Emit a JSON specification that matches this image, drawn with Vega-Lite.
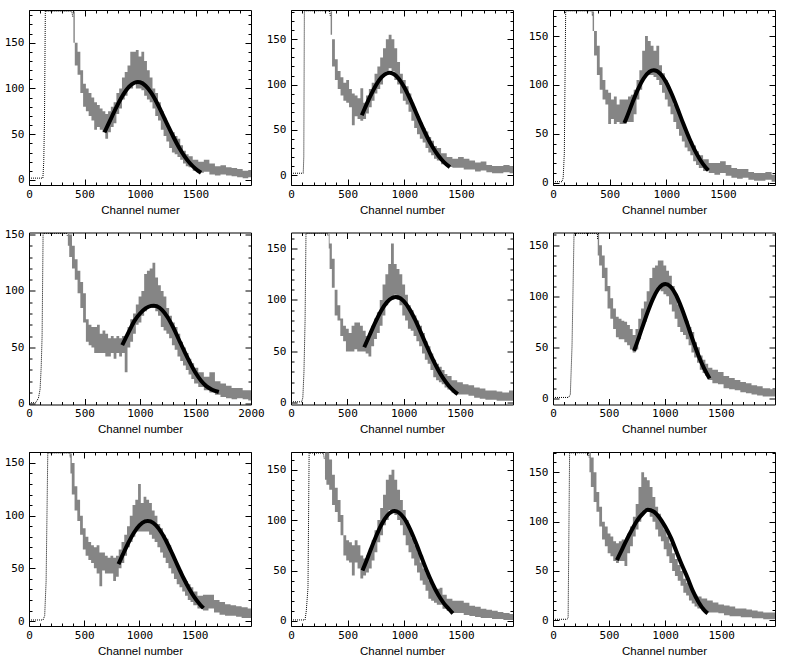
{
"$schema":"https://vega.github.io/schema/vega-lite/v6.json",
"padding":{"left":3,"top":5,"right":0,"bottom":0},
"background":"white",
"bounds":"flush",
"config":{"view":{"stroke":"black","strokeWidth":1},
"axis":{"domain":false,"grid":false,"tickColor":"black","labelColor":"black","labelFont":"DejaVu Sans Mono","labelFontSize":11,"titleFont":"Liberation Sans","titleFontSize":11.5,"titleFontWeight":"normal","titleColor":"black","labelFlush":false,"labelOverlap":false,"titlePadding":2}},
"columns":3,
"spacing":{"column":40,"row":47.5},
"datasets":{
"hist":[
{"p":1,"x":0,"y":2},{"p":1,"x":125,"y":2},{"p":1,"x":133,"y":20},{"p":1,"x":140,"y":70},{"p":1,"x":147,"y":184.5},{"p":1,"x":385,"y":184.5},{"p":1,"x":395,"y":178},
{"p":1,"x":400,"y":170,"lo":150,"hi":184},{"p":1,"x":425,"y":140,"lo":125,"hi":150},{"p":1,"x":450,"y":125,"lo":115,"hi":140},{"p":1,"x":475,"y":110,"lo":95,"hi":120},{"p":1,"x":500,"y":95,"lo":80,"hi":105},{"p":1,"x":525,"y":85,"lo":75,"hi":100},{"p":1,"x":550,"y":80,"lo":70,"hi":95},{"p":1,"x":575,"y":75,"lo":65,"hi":90},{"p":1,"x":600,"y":70,"lo":55,"hi":85},{"p":1,"x":625,"y":68,"lo":58,"hi":82},{"p":1,"x":650,"y":65,"lo":55,"hi":78},{"p":1,"x":675,"y":62,"lo":52,"hi":75},{"p":1,"x":700,"y":60,"lo":45,"hi":72},{"p":1,"x":725,"y":62,"lo":52,"hi":75},{"p":1,"x":750,"y":68,"lo":58,"hi":80},{"p":1,"x":775,"y":75,"lo":62,"hi":85},{"p":1,"x":800,"y":85,"lo":72,"hi":95},{"p":1,"x":825,"y":90,"lo":78,"hi":100},{"p":1,"x":850,"y":100,"lo":88,"hi":112},{"p":1,"x":875,"y":105,"lo":92,"hi":118},{"p":1,"x":900,"y":112,"lo":100,"hi":125},{"p":1,"x":925,"y":118,"lo":100,"hi":140},{"p":1,"x":950,"y":122,"lo":105,"hi":140},{"p":1,"x":975,"y":120,"lo":100,"hi":142},{"p":1,"x":1000,"y":118,"lo":100,"hi":135},{"p":1,"x":1025,"y":115,"lo":98,"hi":140},{"p":1,"x":1050,"y":112,"lo":92,"hi":130},{"p":1,"x":1075,"y":105,"lo":88,"hi":120},{"p":1,"x":1100,"y":98,"lo":85,"hi":112},{"p":1,"x":1125,"y":90,"lo":78,"hi":100},{"p":1,"x":1150,"y":82,"lo":70,"hi":95},{"p":1,"x":1175,"y":75,"lo":65,"hi":85},{"p":1,"x":1200,"y":65,"lo":55,"hi":75},{"p":1,"x":1225,"y":58,"lo":48,"hi":68},{"p":1,"x":1250,"y":52,"lo":42,"hi":62},{"p":1,"x":1275,"y":48,"lo":35,"hi":55},{"p":1,"x":1300,"y":42,"lo":30,"hi":52},{"p":1,"x":1325,"y":38,"lo":28,"hi":48},{"p":1,"x":1350,"y":35,"lo":25,"hi":45},{"p":1,"x":1375,"y":30,"lo":22,"hi":38},{"p":1,"x":1400,"y":26,"lo":18,"hi":32},{"p":1,"x":1425,"y":22,"lo":15,"hi":28},{"p":1,"x":1450,"y":20,"lo":14,"hi":26},{"p":1,"x":1500,"y":16,"lo":10,"hi":22},{"p":1,"x":1550,"y":14,"lo":8,"hi":20},{"p":1,"x":1600,"y":15,"lo":9,"hi":22},{"p":1,"x":1650,"y":12,"lo":6,"hi":18},{"p":1,"x":1700,"y":10,"lo":5,"hi":15},{"p":1,"x":1750,"y":12,"lo":6,"hi":16},{"p":1,"x":1800,"y":10,"lo":5,"hi":14},{"p":1,"x":1850,"y":9,"lo":4,"hi":13},{"p":1,"x":1900,"y":8,"lo":3,"hi":12},{"p":1,"x":1950,"y":6,"lo":2,"hi":10},{"p":1,"x":2000,"y":7,"lo":3,"hi":11},
{"p":2,"x":0,"y":2},{"p":2,"x":108,"y":2},{"p":2,"x":113,"y":20},{"p":2,"x":118,"y":181.5},{"p":2,"x":340,"y":181.5},{"p":2,"x":347,"y":176},
{"p":2,"x":350,"y":170,"lo":155,"hi":181},{"p":2,"x":375,"y":135,"lo":120,"hi":150},{"p":2,"x":400,"y":115,"lo":105,"hi":128},{"p":2,"x":425,"y":105,"lo":95,"hi":115},{"p":2,"x":450,"y":98,"lo":88,"hi":108},{"p":2,"x":475,"y":92,"lo":82,"hi":102},{"p":2,"x":500,"y":90,"lo":80,"hi":105},{"p":2,"x":525,"y":85,"lo":75,"hi":95},{"p":2,"x":550,"y":78,"lo":55,"hi":90},{"p":2,"x":575,"y":75,"lo":65,"hi":88},{"p":2,"x":600,"y":72,"lo":62,"hi":85},{"p":2,"x":625,"y":70,"lo":60,"hi":96},{"p":2,"x":650,"y":72,"lo":62,"hi":80},{"p":2,"x":675,"y":78,"lo":68,"hi":88},{"p":2,"x":700,"y":85,"lo":75,"hi":95},{"p":2,"x":725,"y":92,"lo":82,"hi":102},{"p":2,"x":750,"y":100,"lo":90,"hi":112},{"p":2,"x":775,"y":108,"lo":95,"hi":120},{"p":2,"x":800,"y":115,"lo":100,"hi":130},{"p":2,"x":825,"y":125,"lo":110,"hi":140},{"p":2,"x":850,"y":132,"lo":115,"hi":150},{"p":2,"x":875,"y":135,"lo":118,"hi":155},{"p":2,"x":900,"y":130,"lo":115,"hi":150},{"p":2,"x":925,"y":122,"lo":105,"hi":140},{"p":2,"x":950,"y":112,"lo":100,"hi":125},{"p":2,"x":975,"y":102,"lo":90,"hi":112},{"p":2,"x":1000,"y":95,"lo":82,"hi":105},{"p":2,"x":1025,"y":88,"lo":78,"hi":98},{"p":2,"x":1050,"y":80,"lo":70,"hi":90},{"p":2,"x":1075,"y":70,"lo":60,"hi":80},{"p":2,"x":1100,"y":62,"lo":52,"hi":72},{"p":2,"x":1125,"y":55,"lo":45,"hi":65},{"p":2,"x":1150,"y":50,"lo":40,"hi":58},{"p":2,"x":1175,"y":45,"lo":36,"hi":52},{"p":2,"x":1200,"y":40,"lo":30,"hi":48},{"p":2,"x":1225,"y":35,"lo":25,"hi":42},{"p":2,"x":1250,"y":30,"lo":22,"hi":38},{"p":2,"x":1275,"y":26,"lo":18,"hi":32},{"p":2,"x":1300,"y":24,"lo":16,"hi":30},{"p":2,"x":1350,"y":18,"lo":12,"hi":24},{"p":2,"x":1400,"y":15,"lo":9,"hi":20},{"p":2,"x":1450,"y":13,"lo":8,"hi":18},{"p":2,"x":1500,"y":14,"lo":8,"hi":20},{"p":2,"x":1550,"y":12,"lo":6,"hi":18},{"p":2,"x":1600,"y":11,"lo":6,"hi":16},{"p":2,"x":1650,"y":9,"lo":4,"hi":14},{"p":2,"x":1700,"y":10,"lo":5,"hi":15},{"p":2,"x":1750,"y":7,"lo":3,"hi":11},{"p":2,"x":1800,"y":6,"lo":2,"hi":10},{"p":2,"x":1850,"y":6,"lo":2,"hi":10},{"p":2,"x":1900,"y":7,"lo":3,"hi":11},{"p":2,"x":1960,"y":6,"lo":2,"hi":10},
{"p":3,"x":0,"y":1},{"p":3,"x":80,"y":1},{"p":3,"x":90,"y":5},{"p":3,"x":100,"y":30},{"p":3,"x":112,"y":175.7},{"p":3,"x":345,"y":175.7},{"p":3,"x":348,"y":170},
{"p":3,"x":350,"y":168,"lo":155,"hi":175},{"p":3,"x":375,"y":145,"lo":130,"hi":155},{"p":3,"x":400,"y":125,"lo":110,"hi":140},{"p":3,"x":425,"y":105,"lo":95,"hi":118},{"p":3,"x":450,"y":95,"lo":85,"hi":105},{"p":3,"x":475,"y":88,"lo":80,"hi":95},{"p":3,"x":500,"y":78,"lo":60,"hi":92},{"p":3,"x":525,"y":75,"lo":65,"hi":85},{"p":3,"x":550,"y":72,"lo":60,"hi":88},{"p":3,"x":575,"y":70,"lo":62,"hi":80},{"p":3,"x":600,"y":68,"lo":60,"hi":85},{"p":3,"x":625,"y":70,"lo":60,"hi":85},{"p":3,"x":650,"y":72,"lo":62,"hi":85},{"p":3,"x":675,"y":75,"lo":62,"hi":88},{"p":3,"x":700,"y":78,"lo":62,"hi":90},{"p":3,"x":725,"y":85,"lo":70,"hi":95},{"p":3,"x":750,"y":95,"lo":85,"hi":105},{"p":3,"x":775,"y":105,"lo":95,"hi":115},{"p":3,"x":800,"y":120,"lo":105,"hi":135},{"p":3,"x":825,"y":130,"lo":110,"hi":150},{"p":3,"x":850,"y":128,"lo":110,"hi":145},{"p":3,"x":875,"y":125,"lo":110,"hi":140},{"p":3,"x":900,"y":122,"lo":108,"hi":135},{"p":3,"x":925,"y":118,"lo":105,"hi":140},{"p":3,"x":950,"y":110,"lo":100,"hi":120},{"p":3,"x":975,"y":102,"lo":92,"hi":112},{"p":3,"x":1000,"y":95,"lo":85,"hi":105},{"p":3,"x":1025,"y":88,"lo":78,"hi":98},{"p":3,"x":1050,"y":80,"lo":70,"hi":90},{"p":3,"x":1075,"y":72,"lo":62,"hi":80},{"p":3,"x":1100,"y":65,"lo":55,"hi":75},{"p":3,"x":1125,"y":58,"lo":48,"hi":66},{"p":3,"x":1150,"y":52,"lo":42,"hi":60},{"p":3,"x":1175,"y":45,"lo":36,"hi":52},{"p":3,"x":1200,"y":40,"lo":32,"hi":48},{"p":3,"x":1225,"y":35,"lo":28,"hi":42},{"p":3,"x":1250,"y":30,"lo":22,"hi":38},{"p":3,"x":1275,"y":26,"lo":18,"hi":32},{"p":3,"x":1300,"y":22,"lo":15,"hi":28},{"p":3,"x":1350,"y":18,"lo":12,"hi":24},{"p":3,"x":1400,"y":15,"lo":10,"hi":20},{"p":3,"x":1450,"y":14,"lo":8,"hi":20},{"p":3,"x":1500,"y":16,"lo":10,"hi":22},{"p":3,"x":1550,"y":12,"lo":7,"hi":18},{"p":3,"x":1600,"y":10,"lo":5,"hi":15},{"p":3,"x":1650,"y":9,"lo":4,"hi":14},{"p":3,"x":1700,"y":10,"lo":5,"hi":14},{"p":3,"x":1750,"y":7,"lo":3,"hi":11},{"p":3,"x":1800,"y":6,"lo":2,"hi":10},{"p":3,"x":1850,"y":6,"lo":2,"hi":10},{"p":3,"x":1900,"y":7,"lo":3,"hi":11},{"p":3,"x":1960,"y":4,"lo":1,"hi":8},
{"p":4,"x":0,"y":1},{"p":4,"x":60,"y":1},{"p":4,"x":85,"y":5},{"p":4,"x":100,"y":13},{"p":4,"x":110,"y":33},{"p":4,"x":118,"y":60},{"p":4,"x":127,"y":151},{"p":4,"x":338,"y":151},{"p":4,"x":345,"y":149},
{"p":4,"x":350,"y":148,"lo":140,"hi":151},{"p":4,"x":375,"y":140,"lo":130,"hi":150},{"p":4,"x":400,"y":130,"lo":120,"hi":140},{"p":4,"x":425,"y":120,"lo":110,"hi":128},{"p":4,"x":450,"y":108,"lo":98,"hi":118},{"p":4,"x":475,"y":98,"lo":85,"hi":108},{"p":4,"x":500,"y":85,"lo":72,"hi":98},{"p":4,"x":525,"y":65,"lo":55,"hi":75},{"p":4,"x":550,"y":60,"lo":52,"hi":70},{"p":4,"x":575,"y":58,"lo":50,"hi":68},{"p":4,"x":600,"y":56,"lo":45,"hi":68},{"p":4,"x":625,"y":55,"lo":45,"hi":70},{"p":4,"x":650,"y":54,"lo":45,"hi":62},{"p":4,"x":675,"y":55,"lo":45,"hi":65},{"p":4,"x":700,"y":52,"lo":42,"hi":62},{"p":4,"x":725,"y":50,"lo":42,"hi":58},{"p":4,"x":750,"y":52,"lo":45,"hi":60},{"p":4,"x":775,"y":50,"lo":40,"hi":58},{"p":4,"x":800,"y":52,"lo":45,"hi":60},{"p":4,"x":825,"y":50,"lo":42,"hi":58},{"p":4,"x":850,"y":52,"lo":45,"hi":60},{"p":4,"x":875,"y":48,"lo":28,"hi":58},{"p":4,"x":900,"y":58,"lo":50,"hi":68},{"p":4,"x":925,"y":65,"lo":55,"hi":75},{"p":4,"x":950,"y":72,"lo":62,"hi":80},{"p":4,"x":975,"y":78,"lo":70,"hi":88},{"p":4,"x":1000,"y":82,"lo":72,"hi":95},{"p":4,"x":1025,"y":88,"lo":78,"hi":100},{"p":4,"x":1050,"y":95,"lo":82,"hi":115},{"p":4,"x":1075,"y":100,"lo":85,"hi":118},{"p":4,"x":1100,"y":102,"lo":85,"hi":120},{"p":4,"x":1125,"y":100,"lo":85,"hi":125},{"p":4,"x":1150,"y":98,"lo":82,"hi":112},{"p":4,"x":1175,"y":90,"lo":78,"hi":105},{"p":4,"x":1200,"y":85,"lo":68,"hi":100},{"p":4,"x":1225,"y":80,"lo":65,"hi":95},{"p":4,"x":1250,"y":75,"lo":62,"hi":85},{"p":4,"x":1275,"y":68,"lo":58,"hi":78},{"p":4,"x":1300,"y":62,"lo":52,"hi":72},{"p":4,"x":1325,"y":58,"lo":48,"hi":68},{"p":4,"x":1350,"y":52,"lo":42,"hi":62},{"p":4,"x":1375,"y":47,"lo":38,"hi":55},{"p":4,"x":1400,"y":42,"lo":34,"hi":50},{"p":4,"x":1425,"y":38,"lo":30,"hi":45},{"p":4,"x":1450,"y":34,"lo":26,"hi":40},{"p":4,"x":1475,"y":30,"lo":22,"hi":36},{"p":4,"x":1500,"y":26,"lo":18,"hi":32},{"p":4,"x":1550,"y":22,"lo":15,"hi":28},{"p":4,"x":1600,"y":18,"lo":12,"hi":24},{"p":4,"x":1650,"y":17,"lo":10,"hi":28},{"p":4,"x":1700,"y":14,"lo":8,"hi":20},{"p":4,"x":1750,"y":12,"lo":6,"hi":18},{"p":4,"x":1800,"y":10,"lo":5,"hi":16},{"p":4,"x":1850,"y":9,"lo":4,"hi":14},{"p":4,"x":1900,"y":10,"lo":5,"hi":14},{"p":4,"x":1950,"y":8,"lo":4,"hi":12},{"p":4,"x":2000,"y":8,"lo":3,"hi":12},
{"p":5,"x":0,"y":1},{"p":5,"x":95,"y":1},{"p":5,"x":105,"y":5},{"p":5,"x":115,"y":30},{"p":5,"x":125,"y":80},{"p":5,"x":133,"y":164.8},{"p":5,"x":323,"y":164.8},{"p":5,"x":330,"y":162},
{"p":5,"x":335,"y":160,"lo":150,"hi":165},{"p":5,"x":350,"y":145,"lo":130,"hi":155},{"p":5,"x":375,"y":128,"lo":112,"hi":140},{"p":5,"x":400,"y":95,"lo":85,"hi":110},{"p":5,"x":425,"y":88,"lo":80,"hi":95},{"p":5,"x":450,"y":75,"lo":65,"hi":82},{"p":5,"x":475,"y":68,"lo":60,"hi":75},{"p":5,"x":500,"y":62,"lo":50,"hi":72},{"p":5,"x":525,"y":60,"lo":50,"hi":68},{"p":5,"x":550,"y":62,"lo":50,"hi":75},{"p":5,"x":575,"y":65,"lo":52,"hi":78},{"p":5,"x":600,"y":62,"lo":50,"hi":78},{"p":5,"x":625,"y":60,"lo":50,"hi":75},{"p":5,"x":650,"y":58,"lo":50,"hi":70},{"p":5,"x":675,"y":55,"lo":48,"hi":65},{"p":5,"x":700,"y":60,"lo":45,"hi":68},{"p":5,"x":725,"y":65,"lo":55,"hi":75},{"p":5,"x":750,"y":72,"lo":62,"hi":82},{"p":5,"x":775,"y":78,"lo":68,"hi":88},{"p":5,"x":800,"y":88,"lo":75,"hi":100},{"p":5,"x":825,"y":100,"lo":85,"hi":115},{"p":5,"x":850,"y":110,"lo":95,"hi":125},{"p":5,"x":875,"y":118,"lo":100,"hi":135},{"p":5,"x":900,"y":120,"lo":100,"hi":155},{"p":5,"x":925,"y":118,"lo":105,"hi":135},{"p":5,"x":950,"y":115,"lo":100,"hi":130},{"p":5,"x":975,"y":110,"lo":95,"hi":125},{"p":5,"x":1000,"y":100,"lo":85,"hi":115},{"p":5,"x":1025,"y":92,"lo":80,"hi":105},{"p":5,"x":1050,"y":85,"lo":72,"hi":95},{"p":5,"x":1075,"y":80,"lo":70,"hi":90},{"p":5,"x":1100,"y":75,"lo":65,"hi":85},{"p":5,"x":1125,"y":70,"lo":60,"hi":80},{"p":5,"x":1150,"y":65,"lo":55,"hi":75},{"p":5,"x":1175,"y":58,"lo":48,"hi":68},{"p":5,"x":1200,"y":52,"lo":42,"hi":60},{"p":5,"x":1225,"y":46,"lo":38,"hi":55},{"p":5,"x":1250,"y":40,"lo":32,"hi":48},{"p":5,"x":1275,"y":35,"lo":25,"hi":42},{"p":5,"x":1300,"y":30,"lo":22,"hi":38},{"p":5,"x":1325,"y":28,"lo":20,"hi":35},{"p":5,"x":1350,"y":25,"lo":18,"hi":32},{"p":5,"x":1375,"y":22,"lo":15,"hi":28},{"p":5,"x":1400,"y":20,"lo":13,"hi":26},{"p":5,"x":1450,"y":17,"lo":10,"hi":22},{"p":5,"x":1500,"y":15,"lo":8,"hi":20},{"p":5,"x":1550,"y":13,"lo":8,"hi":18},{"p":5,"x":1600,"y":12,"lo":7,"hi":17},{"p":5,"x":1650,"y":10,"lo":5,"hi":15},{"p":5,"x":1700,"y":9,"lo":4,"hi":14},{"p":5,"x":1750,"y":8,"lo":3,"hi":12},{"p":5,"x":1800,"y":8,"lo":3,"hi":12},{"p":5,"x":1850,"y":7,"lo":2,"hi":11},{"p":5,"x":1900,"y":6,"lo":2,"hi":10},{"p":5,"x":1970,"y":7,"lo":2,"hi":12},
{"p":6,"x":0,"y":1},{"p":6,"x":140,"y":1},{"p":6,"x":155,"y":4},{"p":6,"x":170,"y":51},{"p":6,"x":188,"y":161.5},{"p":6,"x":396,"y":161.5},{"p":6,"x":399,"y":156},
{"p":6,"x":400,"y":150,"lo":140,"hi":161},{"p":6,"x":425,"y":140,"lo":130,"hi":150},{"p":6,"x":450,"y":130,"lo":118,"hi":140},{"p":6,"x":475,"y":118,"lo":105,"hi":128},{"p":6,"x":500,"y":100,"lo":88,"hi":110},{"p":6,"x":525,"y":88,"lo":78,"hi":98},{"p":6,"x":550,"y":78,"lo":68,"hi":88},{"p":6,"x":575,"y":70,"lo":60,"hi":80},{"p":6,"x":600,"y":68,"lo":58,"hi":78},{"p":6,"x":625,"y":66,"lo":58,"hi":76},{"p":6,"x":650,"y":65,"lo":55,"hi":75},{"p":6,"x":675,"y":62,"lo":52,"hi":72},{"p":6,"x":700,"y":58,"lo":48,"hi":68},{"p":6,"x":725,"y":55,"lo":45,"hi":62},{"p":6,"x":750,"y":58,"lo":48,"hi":68},{"p":6,"x":775,"y":68,"lo":58,"hi":78},{"p":6,"x":800,"y":78,"lo":68,"hi":88},{"p":6,"x":825,"y":85,"lo":75,"hi":95},{"p":6,"x":850,"y":95,"lo":85,"hi":105},{"p":6,"x":875,"y":105,"lo":92,"hi":118},{"p":6,"x":900,"y":115,"lo":100,"hi":128},{"p":6,"x":925,"y":118,"lo":105,"hi":130},{"p":6,"x":950,"y":122,"lo":110,"hi":135},{"p":6,"x":975,"y":120,"lo":105,"hi":135},{"p":6,"x":1000,"y":118,"lo":102,"hi":130},{"p":6,"x":1025,"y":112,"lo":100,"hi":125},{"p":6,"x":1050,"y":105,"lo":92,"hi":120},{"p":6,"x":1075,"y":98,"lo":85,"hi":110},{"p":6,"x":1100,"y":90,"lo":78,"hi":100},{"p":6,"x":1125,"y":82,"lo":70,"hi":92},{"p":6,"x":1150,"y":78,"lo":65,"hi":88},{"p":6,"x":1175,"y":72,"lo":62,"hi":80},{"p":6,"x":1200,"y":68,"lo":58,"hi":76},{"p":6,"x":1225,"y":62,"lo":52,"hi":70},{"p":6,"x":1250,"y":55,"lo":45,"hi":65},{"p":6,"x":1275,"y":48,"lo":40,"hi":55},{"p":6,"x":1300,"y":42,"lo":35,"hi":50},{"p":6,"x":1325,"y":36,"lo":28,"hi":42},{"p":6,"x":1350,"y":32,"lo":25,"hi":38},{"p":6,"x":1375,"y":28,"lo":22,"hi":34},{"p":6,"x":1400,"y":25,"lo":18,"hi":30},{"p":6,"x":1450,"y":22,"lo":15,"hi":28},{"p":6,"x":1500,"y":20,"lo":14,"hi":26},{"p":6,"x":1550,"y":16,"lo":10,"hi":22},{"p":6,"x":1600,"y":15,"lo":9,"hi":20},{"p":6,"x":1650,"y":13,"lo":8,"hi":18},{"p":6,"x":1700,"y":11,"lo":6,"hi":16},{"p":6,"x":1750,"y":10,"lo":5,"hi":15},{"p":6,"x":1800,"y":9,"lo":4,"hi":13},{"p":6,"x":1850,"y":7,"lo":3,"hi":12},{"p":6,"x":1900,"y":6,"lo":2,"hi":10},{"p":6,"x":1985,"y":5,"lo":2,"hi":9},
{"p":7,"x":0,"y":1},{"p":7,"x":127,"y":1},{"p":7,"x":142,"y":5},{"p":7,"x":155,"y":38},{"p":7,"x":170,"y":159.5},{"p":7,"x":370,"y":159.5},{"p":7,"x":373,"y":155},
{"p":7,"x":375,"y":150,"lo":140,"hi":159},{"p":7,"x":400,"y":135,"lo":120,"hi":150},{"p":7,"x":425,"y":115,"lo":105,"hi":128},{"p":7,"x":450,"y":105,"lo":95,"hi":115},{"p":7,"x":475,"y":92,"lo":82,"hi":100},{"p":7,"x":500,"y":78,"lo":68,"hi":88},{"p":7,"x":525,"y":72,"lo":62,"hi":80},{"p":7,"x":550,"y":68,"lo":58,"hi":75},{"p":7,"x":575,"y":62,"lo":55,"hi":72},{"p":7,"x":600,"y":60,"lo":50,"hi":70},{"p":7,"x":625,"y":58,"lo":45,"hi":72},{"p":7,"x":650,"y":55,"lo":33,"hi":65},{"p":7,"x":675,"y":58,"lo":48,"hi":65},{"p":7,"x":700,"y":55,"lo":45,"hi":62},{"p":7,"x":725,"y":52,"lo":45,"hi":60},{"p":7,"x":750,"y":55,"lo":45,"hi":62},{"p":7,"x":775,"y":50,"lo":38,"hi":60},{"p":7,"x":800,"y":52,"lo":42,"hi":62},{"p":7,"x":825,"y":58,"lo":50,"hi":68},{"p":7,"x":850,"y":65,"lo":55,"hi":75},{"p":7,"x":875,"y":72,"lo":62,"hi":82},{"p":7,"x":900,"y":80,"lo":70,"hi":90},{"p":7,"x":925,"y":88,"lo":75,"hi":100},{"p":7,"x":950,"y":95,"lo":80,"hi":110},{"p":7,"x":975,"y":100,"lo":85,"hi":115},{"p":7,"x":1000,"y":105,"lo":85,"hi":130},{"p":7,"x":1025,"y":100,"lo":85,"hi":112},{"p":7,"x":1050,"y":102,"lo":85,"hi":118},{"p":7,"x":1075,"y":100,"lo":85,"hi":115},{"p":7,"x":1100,"y":98,"lo":82,"hi":112},{"p":7,"x":1125,"y":92,"lo":78,"hi":105},{"p":7,"x":1150,"y":88,"lo":75,"hi":100},{"p":7,"x":1175,"y":82,"lo":70,"hi":92},{"p":7,"x":1200,"y":78,"lo":65,"hi":88},{"p":7,"x":1225,"y":72,"lo":60,"hi":82},{"p":7,"x":1250,"y":68,"lo":55,"hi":78},{"p":7,"x":1275,"y":62,"lo":50,"hi":72},{"p":7,"x":1300,"y":55,"lo":45,"hi":65},{"p":7,"x":1325,"y":50,"lo":40,"hi":58},{"p":7,"x":1350,"y":45,"lo":35,"hi":52},{"p":7,"x":1375,"y":40,"lo":32,"hi":48},{"p":7,"x":1400,"y":35,"lo":28,"hi":42},{"p":7,"x":1425,"y":32,"lo":24,"hi":38},{"p":7,"x":1450,"y":28,"lo":20,"hi":35},{"p":7,"x":1475,"y":26,"lo":18,"hi":32},{"p":7,"x":1500,"y":22,"lo":15,"hi":28},{"p":7,"x":1550,"y":18,"lo":12,"hi":24},{"p":7,"x":1600,"y":18,"lo":10,"hi":25},{"p":7,"x":1650,"y":20,"lo":12,"hi":25},{"p":7,"x":1700,"y":15,"lo":8,"hi":20},{"p":7,"x":1750,"y":12,"lo":6,"hi":18},{"p":7,"x":1800,"y":11,"lo":5,"hi":16},{"p":7,"x":1850,"y":10,"lo":5,"hi":15},{"p":7,"x":1900,"y":9,"lo":4,"hi":14},{"p":7,"x":1950,"y":8,"lo":3,"hi":13},{"p":7,"x":2010,"y":8,"lo":3,"hi":12},
{"p":8,"x":0,"y":1},{"p":8,"x":124,"y":1},{"p":8,"x":135,"y":10},{"p":8,"x":150,"y":33},{"p":8,"x":160,"y":166.5},{"p":8,"x":286,"y":166.5},{"p":8,"x":295,"y":160},
{"p":8,"x":300,"y":155,"lo":140,"hi":167},{"p":8,"x":325,"y":150,"lo":135,"hi":167},{"p":8,"x":350,"y":145,"lo":130,"hi":160},{"p":8,"x":375,"y":130,"lo":115,"hi":145},{"p":8,"x":400,"y":120,"lo":108,"hi":132},{"p":8,"x":425,"y":110,"lo":98,"hi":120},{"p":8,"x":450,"y":95,"lo":85,"hi":105},{"p":8,"x":475,"y":75,"lo":65,"hi":85},{"p":8,"x":500,"y":70,"lo":60,"hi":80},{"p":8,"x":525,"y":68,"lo":58,"hi":78},{"p":8,"x":550,"y":65,"lo":45,"hi":75},{"p":8,"x":575,"y":68,"lo":58,"hi":80},{"p":8,"x":600,"y":62,"lo":52,"hi":75},{"p":8,"x":625,"y":55,"lo":42,"hi":65},{"p":8,"x":650,"y":55,"lo":45,"hi":62},{"p":8,"x":675,"y":58,"lo":48,"hi":65},{"p":8,"x":700,"y":62,"lo":52,"hi":72},{"p":8,"x":725,"y":70,"lo":60,"hi":80},{"p":8,"x":750,"y":78,"lo":68,"hi":90},{"p":8,"x":775,"y":90,"lo":78,"hi":100},{"p":8,"x":800,"y":100,"lo":85,"hi":112},{"p":8,"x":825,"y":110,"lo":95,"hi":125},{"p":8,"x":850,"y":120,"lo":100,"hi":140},{"p":8,"x":875,"y":128,"lo":110,"hi":145},{"p":8,"x":900,"y":125,"lo":108,"hi":150},{"p":8,"x":925,"y":120,"lo":105,"hi":140},{"p":8,"x":950,"y":115,"lo":100,"hi":130},{"p":8,"x":975,"y":108,"lo":95,"hi":120},{"p":8,"x":1000,"y":98,"lo":85,"hi":110},{"p":8,"x":1025,"y":88,"lo":75,"hi":100},{"p":8,"x":1050,"y":80,"lo":68,"hi":90},{"p":8,"x":1075,"y":72,"lo":62,"hi":82},{"p":8,"x":1100,"y":65,"lo":55,"hi":75},{"p":8,"x":1125,"y":58,"lo":48,"hi":68},{"p":8,"x":1150,"y":50,"lo":40,"hi":58},{"p":8,"x":1175,"y":45,"lo":36,"hi":52},{"p":8,"x":1200,"y":40,"lo":30,"hi":48},{"p":8,"x":1225,"y":32,"lo":22,"hi":40},{"p":8,"x":1250,"y":28,"lo":20,"hi":35},{"p":8,"x":1275,"y":25,"lo":18,"hi":32},{"p":8,"x":1300,"y":24,"lo":16,"hi":32},{"p":8,"x":1325,"y":25,"lo":16,"hi":33},{"p":8,"x":1350,"y":20,"lo":12,"hi":26},{"p":8,"x":1400,"y":16,"lo":10,"hi":22},{"p":8,"x":1450,"y":14,"lo":8,"hi":20},{"p":8,"x":1500,"y":14,"lo":8,"hi":20},{"p":8,"x":1550,"y":12,"lo":6,"hi":18},{"p":8,"x":1600,"y":10,"lo":5,"hi":15},{"p":8,"x":1650,"y":9,"lo":4,"hi":14},{"p":8,"x":1700,"y":8,"lo":3,"hi":12},{"p":8,"x":1750,"y":7,"lo":3,"hi":11},{"p":8,"x":1800,"y":6,"lo":2,"hi":10},{"p":8,"x":1850,"y":5,"lo":2,"hi":9},{"p":8,"x":1900,"y":5,"lo":1,"hi":8},{"p":8,"x":1960,"y":4,"lo":1,"hi":7},
{"p":9,"x":0,"y":1},{"p":9,"x":126,"y":1},{"p":9,"x":135,"y":3},{"p":9,"x":148,"y":169.7},{"p":9,"x":316,"y":169.7},{"p":9,"x":322,"y":165},
{"p":9,"x":325,"y":160,"lo":150,"hi":170},{"p":9,"x":350,"y":150,"lo":135,"hi":165},{"p":9,"x":375,"y":135,"lo":120,"hi":150},{"p":9,"x":400,"y":120,"lo":110,"hi":130},{"p":9,"x":425,"y":105,"lo":95,"hi":115},{"p":9,"x":450,"y":92,"lo":82,"hi":100},{"p":9,"x":475,"y":85,"lo":75,"hi":95},{"p":9,"x":500,"y":78,"lo":68,"hi":88},{"p":9,"x":525,"y":75,"lo":65,"hi":85},{"p":9,"x":550,"y":70,"lo":60,"hi":80},{"p":9,"x":575,"y":68,"lo":58,"hi":78},{"p":9,"x":600,"y":70,"lo":60,"hi":80},{"p":9,"x":625,"y":72,"lo":60,"hi":82},{"p":9,"x":650,"y":68,"lo":55,"hi":80},{"p":9,"x":675,"y":78,"lo":68,"hi":88},{"p":9,"x":700,"y":85,"lo":75,"hi":95},{"p":9,"x":725,"y":95,"lo":85,"hi":105},{"p":9,"x":750,"y":105,"lo":92,"hi":118},{"p":9,"x":775,"y":115,"lo":100,"hi":135},{"p":9,"x":800,"y":125,"lo":110,"hi":150},{"p":9,"x":825,"y":130,"lo":112,"hi":145},{"p":9,"x":850,"y":128,"lo":110,"hi":142},{"p":9,"x":875,"y":120,"lo":105,"hi":135},{"p":9,"x":900,"y":112,"lo":100,"hi":125},{"p":9,"x":925,"y":105,"lo":92,"hi":115},{"p":9,"x":950,"y":98,"lo":85,"hi":108},{"p":9,"x":975,"y":90,"lo":80,"hi":100},{"p":9,"x":1000,"y":82,"lo":72,"hi":92},{"p":9,"x":1025,"y":75,"lo":65,"hi":85},{"p":9,"x":1050,"y":68,"lo":58,"hi":78},{"p":9,"x":1075,"y":60,"lo":50,"hi":68},{"p":9,"x":1100,"y":55,"lo":45,"hi":62},{"p":9,"x":1125,"y":48,"lo":40,"hi":56},{"p":9,"x":1150,"y":42,"lo":35,"hi":50},{"p":9,"x":1175,"y":36,"lo":28,"hi":42},{"p":9,"x":1200,"y":32,"lo":25,"hi":38},{"p":9,"x":1225,"y":28,"lo":20,"hi":34},{"p":9,"x":1250,"y":24,"lo":17,"hi":30},{"p":9,"x":1275,"y":20,"lo":14,"hi":26},{"p":9,"x":1300,"y":18,"lo":12,"hi":24},{"p":9,"x":1350,"y":15,"lo":10,"hi":22},{"p":9,"x":1400,"y":14,"lo":8,"hi":20},{"p":9,"x":1450,"y":13,"lo":8,"hi":18},{"p":9,"x":1500,"y":12,"lo":7,"hi":16},{"p":9,"x":1550,"y":10,"lo":5,"hi":15},{"p":9,"x":1600,"y":9,"lo":4,"hi":14},{"p":9,"x":1650,"y":8,"lo":4,"hi":12},{"p":9,"x":1700,"y":8,"lo":3,"hi":12},{"p":9,"x":1750,"y":7,"lo":3,"hi":11},{"p":9,"x":1800,"y":6,"lo":2,"hi":10},{"p":9,"x":1850,"y":5,"lo":2,"hi":9},{"p":9,"x":1900,"y":5,"lo":1,"hi":8},{"p":9,"x":1980,"y":4,"lo":1,"hi":8}
],
"fit":[
{"p":1,"x":680,"y":52.1},{"p":1,"x":700,"y":57.1},{"p":1,"x":750,"y":70.1},{"p":1,"x":800,"y":82.6},{"p":1,"x":850,"y":93.5},{"p":1,"x":900,"y":101.7},{"p":1,"x":950,"y":106.2},{"p":1,"x":980,"y":107},{"p":1,"x":1000,"y":106.7},{"p":1,"x":1050,"y":102.9},{"p":1,"x":1100,"y":95.4},{"p":1,"x":1150,"y":84.9},{"p":1,"x":1200,"y":72.6},{"p":1,"x":1250,"y":59.7},{"p":1,"x":1300,"y":47.2},{"p":1,"x":1350,"y":35.8},{"p":1,"x":1400,"y":26.1},{"p":1,"x":1450,"y":18.3},{"p":1,"x":1500,"y":12.3},{"p":1,"x":1550,"y":7.9},
{"p":2,"x":625,"y":66},{"p":2,"x":650,"y":73.2},{"p":2,"x":700,"y":87.2},{"p":2,"x":750,"y":99.3},{"p":2,"x":800,"y":108.1},{"p":2,"x":850,"y":112.6},{"p":2,"x":870,"y":113},{"p":2,"x":900,"y":112.1},{"p":2,"x":950,"y":106.7},{"p":2,"x":1000,"y":97.1},{"p":2,"x":1050,"y":84.5},{"p":2,"x":1100,"y":70.3},{"p":2,"x":1150,"y":56},{"p":2,"x":1200,"y":42.6},{"p":2,"x":1250,"y":31},{"p":2,"x":1300,"y":21.6},{"p":2,"x":1350,"y":14.3},{"p":2,"x":1403,"y":8.8},
{"p":3,"x":630,"y":61},{"p":3,"x":650,"y":66.4},{"p":3,"x":700,"y":81.5},{"p":3,"x":750,"y":95.4},{"p":3,"x":800,"y":106.5},{"p":3,"x":850,"y":113.3},{"p":3,"x":890,"y":115},{"p":3,"x":950,"y":111.1},{"p":3,"x":1000,"y":102.5},{"p":3,"x":1050,"y":90.1},{"p":3,"x":1100,"y":75.6},{"p":3,"x":1150,"y":60.4},{"p":3,"x":1200,"y":46.1},{"p":3,"x":1250,"y":33.5},{"p":3,"x":1300,"y":23.2},{"p":3,"x":1350,"y":15.3},{"p":3,"x":1372,"y":12.6},
{"p":4,"x":840,"y":52},{"p":4,"x":900,"y":64},{"p":4,"x":950,"y":73.5},{"p":4,"x":1000,"y":80},{"p":4,"x":1050,"y":84.5},{"p":4,"x":1100,"y":86.8},{"p":4,"x":1125,"y":87},{"p":4,"x":1150,"y":86.5},{"p":4,"x":1200,"y":83},{"p":4,"x":1250,"y":76.5},{"p":4,"x":1300,"y":67.5},{"p":4,"x":1350,"y":57},{"p":4,"x":1400,"y":46.5},{"p":4,"x":1450,"y":36.5},{"p":4,"x":1500,"y":27.5},{"p":4,"x":1550,"y":20.5},{"p":4,"x":1600,"y":15.5},{"p":4,"x":1650,"y":12.5},{"p":4,"x":1710,"y":10.5},
{"p":5,"x":650,"y":54},{"p":5,"x":700,"y":66.5},{"p":5,"x":750,"y":78.8},{"p":5,"x":800,"y":89.6},{"p":5,"x":850,"y":97.7},{"p":5,"x":900,"y":102.2},{"p":5,"x":930,"y":103},{"p":5,"x":950,"y":102.7},{"p":5,"x":1000,"y":98.9},{"p":5,"x":1050,"y":91.4},{"p":5,"x":1100,"y":81.1},{"p":5,"x":1150,"y":69},{"p":5,"x":1200,"y":56.4},{"p":5,"x":1250,"y":44.2},{"p":5,"x":1300,"y":33.2},{"p":5,"x":1350,"y":24},{"p":5,"x":1400,"y":16.6},{"p":5,"x":1450,"y":11},{"p":5,"x":1480,"y":8.5},
{"p":6,"x":725,"y":46.6},{"p":6,"x":750,"y":54.1},{"p":6,"x":800,"y":70},{"p":6,"x":850,"y":85.6},{"p":6,"x":900,"y":99},{"p":6,"x":950,"y":108.3},{"p":6,"x":1005,"y":112},{"p":6,"x":1050,"y":109.5},{"p":6,"x":1100,"y":101.2},{"p":6,"x":1150,"y":88.5},{"p":6,"x":1200,"y":73.2},{"p":6,"x":1250,"y":57.2},{"p":6,"x":1300,"y":42.3},{"p":6,"x":1350,"y":29.6},{"p":6,"x":1400,"y":19.5},
{"p":7,"x":810,"y":54},{"p":7,"x":850,"y":63.2},{"p":7,"x":900,"y":74.3},{"p":7,"x":950,"y":83.8},{"p":7,"x":1000,"y":90.8},{"p":7,"x":1050,"y":94.5},{"p":7,"x":1075,"y":95},{"p":7,"x":1100,"y":94.5},{"p":7,"x":1150,"y":90.8},{"p":7,"x":1200,"y":83.8},{"p":7,"x":1250,"y":74.3},{"p":7,"x":1300,"y":63.2},{"p":7,"x":1350,"y":51.7},{"p":7,"x":1400,"y":40.6},{"p":7,"x":1450,"y":30.7},{"p":7,"x":1500,"y":22.2},{"p":7,"x":1550,"y":15.5},{"p":7,"x":1580,"y":12.2},
{"p":8,"x":631,"y":50},{"p":8,"x":650,"y":55.1},{"p":8,"x":700,"y":69.6},{"p":8,"x":750,"y":83.7},{"p":8,"x":800,"y":95.9},{"p":8,"x":850,"y":104.6},{"p":8,"x":915,"y":109},{"p":8,"x":950,"y":107.7},{"p":8,"x":1000,"y":101.6},{"p":8,"x":1050,"y":91.3},{"p":8,"x":1100,"y":78.2},{"p":8,"x":1150,"y":63.8},{"p":8,"x":1200,"y":49.5},{"p":8,"x":1250,"y":36.7},{"p":8,"x":1300,"y":25.9},{"p":8,"x":1350,"y":17.4},{"p":8,"x":1400,"y":11.1},{"p":8,"x":1430,"y":7.5},
{"p":9,"x":570,"y":61},{"p":9,"x":600,"y":68},{"p":9,"x":650,"y":80},{"p":9,"x":700,"y":91},{"p":9,"x":750,"y":101},{"p":9,"x":800,"y":108},{"p":9,"x":845,"y":112},{"p":9,"x":900,"y":110},{"p":9,"x":950,"y":104},{"p":9,"x":1000,"y":95},{"p":9,"x":1050,"y":84},{"p":9,"x":1100,"y":70},{"p":9,"x":1150,"y":56},{"p":9,"x":1200,"y":43},{"p":9,"x":1250,"y":29},{"p":9,"x":1300,"y":18},{"p":9,"x":1350,"y":10},{"p":9,"x":1380,"y":7}
]},
"concat":[
{"width":222,"height":175,"layer":[
{"data":{"name":"hist"},"transform":[{"filter":"datum.p === 1"}],"mark":{"type":"area","interpolate":"step","fill":"#858585","clip":true},
"encoding":{"x":{"field":"x","type":"quantitative","scale":{"domain":[0,2000],"nice":false,"zero":false},"axis":{"orient":"bottom","values":[0,100,200,300,400,500,600,700,800,900,1000,1100,1200,1300,1400,1500,1600,1700,1800,1900],"format":"d","labelExpr":"datum.value % 500 === 0 ? datum.label : ''","tickSize":{"condition":{"test":"datum.value % 500 === 0","value":-6},"value":-3},"labelPadding":9,"title":"Channel numer"}},
"y":{"field":"lo","type":"quantitative","scale":{"domain":[-5.5,185.7],"nice":false,"zero":false},"axis":{"orient":"left","values":[0,10,20,30,40,50,60,70,80,90,100,110,120,130,140,150,160,170,180],"format":"d","labelExpr":"datum.value % 50 === 0 ? datum.label : ''","tickSize":{"condition":{"test":"datum.value % 50 === 0","value":-6},"value":-3},"labelPadding":11,"title":null}},"y2":{"field":"hi"}}},
{"data":{"name":"hist"},"transform":[{"filter":"datum.p === 1 && !isValid(datum.lo)"}],"mark":{"type":"line","stroke":"black","strokeWidth":1,"strokeDash":[1,1],"clip":true},
"encoding":{"x":{"field":"x","type":"quantitative","scale":{"domain":[0,2000],"nice":false,"zero":false},"axis":null},"y":{"field":"y","type":"quantitative","scale":{"domain":[-5.5,185.7],"nice":false,"zero":false},"axis":null}}},
{"data":{"name":"fit"},"transform":[{"filter":"datum.p === 1"}],"mark":{"type":"line","stroke":"black","strokeWidth":4,"interpolate":"monotone","clip":true},
"encoding":{"x":{"field":"x","type":"quantitative","scale":{"domain":[0,2000],"nice":false,"zero":false},"axis":{"orient":"top","values":[0,100,200,300,400,500,600,700,800,900,1000,1100,1200,1300,1400,1500,1600,1700,1800,1900],"labels":false,"tickSize":{"condition":{"test":"datum.value % 500 === 0","value":-6},"value":-3},"title":null}},
"y":{"field":"y","type":"quantitative","scale":{"domain":[-5.5,185.7],"nice":false,"zero":false},"axis":{"orient":"right","values":[0,10,20,30,40,50,60,70,80,90,100,110,120,130,140,150,160,170,180],"labels":false,"tickSize":{"condition":{"test":"datum.value % 50 === 0","value":-6},"value":-3},"title":null}}}}
],"resolve":{"axis":{"x":"independent","y":"independent"}}},
{"width":222,"height":175,"layer":[
{"data":{"name":"hist"},"transform":[{"filter":"datum.p === 2"}],"mark":{"type":"area","interpolate":"step","fill":"#858585","clip":true},
"encoding":{"x":{"field":"x","type":"quantitative","scale":{"domain":[0,1960],"nice":false,"zero":false},"axis":{"orient":"bottom","values":[0,100,200,300,400,500,600,700,800,900,1000,1100,1200,1300,1400,1500,1600,1700,1800,1900],"format":"d","labelExpr":"datum.value % 500 === 0 ? datum.label : ''","tickSize":{"condition":{"test":"datum.value % 500 === 0","value":-6},"value":-3},"labelPadding":9,"title":"Channel number"}},
"y":{"field":"lo","type":"quantitative","scale":{"domain":[-11,182.4],"nice":false,"zero":false},"axis":{"orient":"left","values":[0,10,20,30,40,50,60,70,80,90,100,110,120,130,140,150,160,170,180],"format":"d","labelExpr":"datum.value % 50 === 0 ? datum.label : ''","tickSize":{"condition":{"test":"datum.value % 50 === 0","value":-6},"value":-3},"labelPadding":11,"title":null}},"y2":{"field":"hi"}}},
{"data":{"name":"hist"},"transform":[{"filter":"datum.p === 2 && !isValid(datum.lo)"}],"mark":{"type":"line","stroke":"black","strokeWidth":1,"strokeDash":[1,1],"clip":true},
"encoding":{"x":{"field":"x","type":"quantitative","scale":{"domain":[0,1960],"nice":false,"zero":false},"axis":null},"y":{"field":"y","type":"quantitative","scale":{"domain":[-11,182.4],"nice":false,"zero":false},"axis":null}}},
{"data":{"name":"fit"},"transform":[{"filter":"datum.p === 2"}],"mark":{"type":"line","stroke":"black","strokeWidth":4,"interpolate":"monotone","clip":true},
"encoding":{"x":{"field":"x","type":"quantitative","scale":{"domain":[0,1960],"nice":false,"zero":false},"axis":{"orient":"top","values":[0,100,200,300,400,500,600,700,800,900,1000,1100,1200,1300,1400,1500,1600,1700,1800,1900],"labels":false,"tickSize":{"condition":{"test":"datum.value % 500 === 0","value":-6},"value":-3},"title":null}},
"y":{"field":"y","type":"quantitative","scale":{"domain":[-11,182.4],"nice":false,"zero":false},"axis":{"orient":"right","values":[0,10,20,30,40,50,60,70,80,90,100,110,120,130,140,150,160,170,180],"labels":false,"tickSize":{"condition":{"test":"datum.value % 50 === 0","value":-6},"value":-3},"title":null}}}}
],"resolve":{"axis":{"x":"independent","y":"independent"}}},
{"width":222,"height":175,"layer":[
{"data":{"name":"hist"},"transform":[{"filter":"datum.p === 3"}],"mark":{"type":"area","interpolate":"step","fill":"#858585","clip":true},
"encoding":{"x":{"field":"x","type":"quantitative","scale":{"domain":[0,1960],"nice":false,"zero":false},"axis":{"orient":"bottom","values":[0,100,200,300,400,500,600,700,800,900,1000,1100,1200,1300,1400,1500,1600,1700,1800,1900],"format":"d","labelExpr":"datum.value % 500 === 0 ? datum.label : ''","tickSize":{"condition":{"test":"datum.value % 500 === 0","value":-6},"value":-3},"labelPadding":9,"title":"Channel number"}},
"y":{"field":"lo","type":"quantitative","scale":{"domain":[-2.4,176.6],"nice":false,"zero":false},"axis":{"orient":"left","values":[0,10,20,30,40,50,60,70,80,90,100,110,120,130,140,150,160,170],"format":"d","labelExpr":"datum.value % 50 === 0 ? datum.label : ''","tickSize":{"condition":{"test":"datum.value % 50 === 0","value":-6},"value":-3},"labelPadding":11,"title":null}},"y2":{"field":"hi"}}},
{"data":{"name":"hist"},"transform":[{"filter":"datum.p === 3 && !isValid(datum.lo)"}],"mark":{"type":"line","stroke":"black","strokeWidth":1,"strokeDash":[1,1],"clip":true},
"encoding":{"x":{"field":"x","type":"quantitative","scale":{"domain":[0,1960],"nice":false,"zero":false},"axis":null},"y":{"field":"y","type":"quantitative","scale":{"domain":[-2.4,176.6],"nice":false,"zero":false},"axis":null}}},
{"data":{"name":"fit"},"transform":[{"filter":"datum.p === 3"}],"mark":{"type":"line","stroke":"black","strokeWidth":4,"interpolate":"monotone","clip":true},
"encoding":{"x":{"field":"x","type":"quantitative","scale":{"domain":[0,1960],"nice":false,"zero":false},"axis":{"orient":"top","values":[0,100,200,300,400,500,600,700,800,900,1000,1100,1200,1300,1400,1500,1600,1700,1800,1900],"labels":false,"tickSize":{"condition":{"test":"datum.value % 500 === 0","value":-6},"value":-3},"title":null}},
"y":{"field":"y","type":"quantitative","scale":{"domain":[-2.4,176.6],"nice":false,"zero":false},"axis":{"orient":"right","values":[0,10,20,30,40,50,60,70,80,90,100,110,120,130,140,150,160,170],"labels":false,"tickSize":{"condition":{"test":"datum.value % 50 === 0","value":-6},"value":-3},"title":null}}}}
],"resolve":{"axis":{"x":"independent","y":"independent"}}},
{"width":222,"height":172,"layer":[
{"data":{"name":"hist"},"transform":[{"filter":"datum.p === 4"}],"mark":{"type":"area","interpolate":"step","fill":"#858585","clip":true},
"encoding":{"x":{"field":"x","type":"quantitative","scale":{"domain":[0,2000],"nice":false,"zero":false},"axis":{"orient":"bottom","values":[0,100,200,300,400,500,600,700,800,900,1000,1100,1200,1300,1400,1500,1600,1700,1800,1900,2000],"format":"d","labelExpr":"datum.value % 500 === 0 ? datum.label : ''","tickSize":{"condition":{"test":"datum.value % 500 === 0","value":-6},"value":-3},"labelPadding":9,"title":"Channel number"}},
"y":{"field":"lo","type":"quantitative","scale":{"domain":[-0.6,151.8],"nice":false,"zero":false},"axis":{"orient":"left","values":[0,10,20,30,40,50,60,70,80,90,100,110,120,130,140,150],"format":"d","labelExpr":"datum.value % 50 === 0 ? datum.label : ''","tickSize":{"condition":{"test":"datum.value % 50 === 0","value":-6},"value":-3},"labelPadding":11,"title":null}},"y2":{"field":"hi"}}},
{"data":{"name":"hist"},"transform":[{"filter":"datum.p === 4 && !isValid(datum.lo)"}],"mark":{"type":"line","stroke":"black","strokeWidth":1,"strokeDash":[1,1],"clip":true},
"encoding":{"x":{"field":"x","type":"quantitative","scale":{"domain":[0,2000],"nice":false,"zero":false},"axis":null},"y":{"field":"y","type":"quantitative","scale":{"domain":[-0.6,151.8],"nice":false,"zero":false},"axis":null}}},
{"data":{"name":"fit"},"transform":[{"filter":"datum.p === 4"}],"mark":{"type":"line","stroke":"black","strokeWidth":4,"interpolate":"monotone","clip":true},
"encoding":{"x":{"field":"x","type":"quantitative","scale":{"domain":[0,2000],"nice":false,"zero":false},"axis":{"orient":"top","values":[0,100,200,300,400,500,600,700,800,900,1000,1100,1200,1300,1400,1500,1600,1700,1800,1900,2000],"labels":false,"tickSize":{"condition":{"test":"datum.value % 500 === 0","value":-6},"value":-3},"title":null}},
"y":{"field":"y","type":"quantitative","scale":{"domain":[-0.6,151.8],"nice":false,"zero":false},"axis":{"orient":"right","values":[0,10,20,30,40,50,60,70,80,90,100,110,120,130,140,150],"labels":false,"tickSize":{"condition":{"test":"datum.value % 50 === 0","value":-6},"value":-3},"title":null}}}}
],"resolve":{"axis":{"x":"independent","y":"independent"}}},
{"width":222,"height":172,"layer":[
{"data":{"name":"hist"},"transform":[{"filter":"datum.p === 5"}],"mark":{"type":"area","interpolate":"step","fill":"#858585","clip":true},
"encoding":{"x":{"field":"x","type":"quantitative","scale":{"domain":[0,1970],"nice":false,"zero":false},"axis":{"orient":"bottom","values":[0,100,200,300,400,500,600,700,800,900,1000,1100,1200,1300,1400,1500,1600,1700,1800,1900],"format":"d","labelExpr":"datum.value % 500 === 0 ? datum.label : ''","tickSize":{"condition":{"test":"datum.value % 500 === 0","value":-6},"value":-3},"labelPadding":9,"title":"Channel number"}},
"y":{"field":"lo","type":"quantitative","scale":{"domain":[-1.6,165.6],"nice":false,"zero":false},"axis":{"orient":"left","values":[0,10,20,30,40,50,60,70,80,90,100,110,120,130,140,150,160],"format":"d","labelExpr":"datum.value % 50 === 0 ? datum.label : ''","tickSize":{"condition":{"test":"datum.value % 50 === 0","value":-6},"value":-3},"labelPadding":11,"title":null}},"y2":{"field":"hi"}}},
{"data":{"name":"hist"},"transform":[{"filter":"datum.p === 5 && !isValid(datum.lo)"}],"mark":{"type":"line","stroke":"black","strokeWidth":1,"strokeDash":[1,1],"clip":true},
"encoding":{"x":{"field":"x","type":"quantitative","scale":{"domain":[0,1970],"nice":false,"zero":false},"axis":null},"y":{"field":"y","type":"quantitative","scale":{"domain":[-1.6,165.6],"nice":false,"zero":false},"axis":null}}},
{"data":{"name":"fit"},"transform":[{"filter":"datum.p === 5"}],"mark":{"type":"line","stroke":"black","strokeWidth":4,"interpolate":"monotone","clip":true},
"encoding":{"x":{"field":"x","type":"quantitative","scale":{"domain":[0,1970],"nice":false,"zero":false},"axis":{"orient":"top","values":[0,100,200,300,400,500,600,700,800,900,1000,1100,1200,1300,1400,1500,1600,1700,1800,1900],"labels":false,"tickSize":{"condition":{"test":"datum.value % 500 === 0","value":-6},"value":-3},"title":null}},
"y":{"field":"y","type":"quantitative","scale":{"domain":[-1.6,165.6],"nice":false,"zero":false},"axis":{"orient":"right","values":[0,10,20,30,40,50,60,70,80,90,100,110,120,130,140,150,160],"labels":false,"tickSize":{"condition":{"test":"datum.value % 50 === 0","value":-6},"value":-3},"title":null}}}}
],"resolve":{"axis":{"x":"independent","y":"independent"}}},
{"width":222,"height":172,"layer":[
{"data":{"name":"hist"},"transform":[{"filter":"datum.p === 6"}],"mark":{"type":"area","interpolate":"step","fill":"#858585","clip":true},
"encoding":{"x":{"field":"x","type":"quantitative","scale":{"domain":[0,1985],"nice":false,"zero":false},"axis":{"orient":"bottom","values":[0,100,200,300,400,500,600,700,800,900,1000,1100,1200,1300,1400,1500,1600,1700,1800,1900],"format":"d","labelExpr":"datum.value % 500 === 0 ? datum.label : ''","tickSize":{"condition":{"test":"datum.value % 500 === 0","value":-6},"value":-3},"labelPadding":9,"title":"Channel number"}},
"y":{"field":"lo","type":"quantitative","scale":{"domain":[-5.9,162.4],"nice":false,"zero":false},"axis":{"orient":"left","values":[0,10,20,30,40,50,60,70,80,90,100,110,120,130,140,150,160],"format":"d","labelExpr":"datum.value % 50 === 0 ? datum.label : ''","tickSize":{"condition":{"test":"datum.value % 50 === 0","value":-6},"value":-3},"labelPadding":11,"title":null}},"y2":{"field":"hi"}}},
{"data":{"name":"hist"},"transform":[{"filter":"datum.p === 6 && !isValid(datum.lo)"}],"mark":{"type":"line","stroke":"black","strokeWidth":1,"strokeDash":[1,1],"clip":true},
"encoding":{"x":{"field":"x","type":"quantitative","scale":{"domain":[0,1985],"nice":false,"zero":false},"axis":null},"y":{"field":"y","type":"quantitative","scale":{"domain":[-5.9,162.4],"nice":false,"zero":false},"axis":null}}},
{"data":{"name":"fit"},"transform":[{"filter":"datum.p === 6"}],"mark":{"type":"line","stroke":"black","strokeWidth":4,"interpolate":"monotone","clip":true},
"encoding":{"x":{"field":"x","type":"quantitative","scale":{"domain":[0,1985],"nice":false,"zero":false},"axis":{"orient":"top","values":[0,100,200,300,400,500,600,700,800,900,1000,1100,1200,1300,1400,1500,1600,1700,1800,1900],"labels":false,"tickSize":{"condition":{"test":"datum.value % 500 === 0","value":-6},"value":-3},"title":null}},
"y":{"field":"y","type":"quantitative","scale":{"domain":[-5.9,162.4],"nice":false,"zero":false},"axis":{"orient":"right","values":[0,10,20,30,40,50,60,70,80,90,100,110,120,130,140,150,160],"labels":false,"tickSize":{"condition":{"test":"datum.value % 50 === 0","value":-6},"value":-3},"title":null}}}}
],"resolve":{"axis":{"x":"independent","y":"independent"}}},
{"width":222,"height":174,"layer":[
{"data":{"name":"hist"},"transform":[{"filter":"datum.p === 7"}],"mark":{"type":"area","interpolate":"step","fill":"#858585","clip":true},
"encoding":{"x":{"field":"x","type":"quantitative","scale":{"domain":[0,2010],"nice":false,"zero":false},"axis":{"orient":"bottom","values":[0,100,200,300,400,500,600,700,800,900,1000,1100,1200,1300,1400,1500,1600,1700,1800,1900],"format":"d","labelExpr":"datum.value % 500 === 0 ? datum.label : ''","tickSize":{"condition":{"test":"datum.value % 500 === 0","value":-6},"value":-3},"labelPadding":9,"title":"Channel number"}},
"y":{"field":"lo","type":"quantitative","scale":{"domain":[-4.7,160.4],"nice":false,"zero":false},"axis":{"orient":"left","values":[0,10,20,30,40,50,60,70,80,90,100,110,120,130,140,150,160],"format":"d","labelExpr":"datum.value % 50 === 0 ? datum.label : ''","tickSize":{"condition":{"test":"datum.value % 50 === 0","value":-6},"value":-3},"labelPadding":11,"title":null}},"y2":{"field":"hi"}}},
{"data":{"name":"hist"},"transform":[{"filter":"datum.p === 7 && !isValid(datum.lo)"}],"mark":{"type":"line","stroke":"black","strokeWidth":1,"strokeDash":[1,1],"clip":true},
"encoding":{"x":{"field":"x","type":"quantitative","scale":{"domain":[0,2010],"nice":false,"zero":false},"axis":null},"y":{"field":"y","type":"quantitative","scale":{"domain":[-4.7,160.4],"nice":false,"zero":false},"axis":null}}},
{"data":{"name":"fit"},"transform":[{"filter":"datum.p === 7"}],"mark":{"type":"line","stroke":"black","strokeWidth":4,"interpolate":"monotone","clip":true},
"encoding":{"x":{"field":"x","type":"quantitative","scale":{"domain":[0,2010],"nice":false,"zero":false},"axis":{"orient":"top","values":[0,100,200,300,400,500,600,700,800,900,1000,1100,1200,1300,1400,1500,1600,1700,1800,1900],"labels":false,"tickSize":{"condition":{"test":"datum.value % 500 === 0","value":-6},"value":-3},"title":null}},
"y":{"field":"y","type":"quantitative","scale":{"domain":[-4.7,160.4],"nice":false,"zero":false},"axis":{"orient":"right","values":[0,10,20,30,40,50,60,70,80,90,100,110,120,130,140,150,160],"labels":false,"tickSize":{"condition":{"test":"datum.value % 50 === 0","value":-6},"value":-3},"title":null}}}}
],"resolve":{"axis":{"x":"independent","y":"independent"}}},
{"width":222,"height":174,"layer":[
{"data":{"name":"hist"},"transform":[{"filter":"datum.p === 8"}],"mark":{"type":"area","interpolate":"step","fill":"#858585","clip":true},
"encoding":{"x":{"field":"x","type":"quantitative","scale":{"domain":[0,1960],"nice":false,"zero":false},"axis":{"orient":"bottom","values":[0,100,200,300,400,500,600,700,800,900,1000,1100,1200,1300,1400,1500,1600,1700,1800,1900],"format":"d","labelExpr":"datum.value % 500 === 0 ? datum.label : ''","tickSize":{"condition":{"test":"datum.value % 500 === 0","value":-6},"value":-3},"labelPadding":9,"title":"Channel number"}},
"y":{"field":"lo","type":"quantitative","scale":{"domain":[-5,167.5],"nice":false,"zero":false},"axis":{"orient":"left","values":[0,10,20,30,40,50,60,70,80,90,100,110,120,130,140,150,160],"format":"d","labelExpr":"datum.value % 50 === 0 ? datum.label : ''","tickSize":{"condition":{"test":"datum.value % 50 === 0","value":-6},"value":-3},"labelPadding":11,"title":null}},"y2":{"field":"hi"}}},
{"data":{"name":"hist"},"transform":[{"filter":"datum.p === 8 && !isValid(datum.lo)"}],"mark":{"type":"line","stroke":"black","strokeWidth":1,"strokeDash":[1,1],"clip":true},
"encoding":{"x":{"field":"x","type":"quantitative","scale":{"domain":[0,1960],"nice":false,"zero":false},"axis":null},"y":{"field":"y","type":"quantitative","scale":{"domain":[-5,167.5],"nice":false,"zero":false},"axis":null}}},
{"data":{"name":"fit"},"transform":[{"filter":"datum.p === 8"}],"mark":{"type":"line","stroke":"black","strokeWidth":4,"interpolate":"monotone","clip":true},
"encoding":{"x":{"field":"x","type":"quantitative","scale":{"domain":[0,1960],"nice":false,"zero":false},"axis":{"orient":"top","values":[0,100,200,300,400,500,600,700,800,900,1000,1100,1200,1300,1400,1500,1600,1700,1800,1900],"labels":false,"tickSize":{"condition":{"test":"datum.value % 500 === 0","value":-6},"value":-3},"title":null}},
"y":{"field":"y","type":"quantitative","scale":{"domain":[-5,167.5],"nice":false,"zero":false},"axis":{"orient":"right","values":[0,10,20,30,40,50,60,70,80,90,100,110,120,130,140,150,160],"labels":false,"tickSize":{"condition":{"test":"datum.value % 50 === 0","value":-6},"value":-3},"title":null}}}}
],"resolve":{"axis":{"x":"independent","y":"independent"}}},
{"width":222,"height":174,"layer":[
{"data":{"name":"hist"},"transform":[{"filter":"datum.p === 9"}],"mark":{"type":"area","interpolate":"step","fill":"#858585","clip":true},
"encoding":{"x":{"field":"x","type":"quantitative","scale":{"domain":[0,1980],"nice":false,"zero":false},"axis":{"orient":"bottom","values":[0,100,200,300,400,500,600,700,800,900,1000,1100,1200,1300,1400,1500,1600,1700,1800,1900],"format":"d","labelExpr":"datum.value % 500 === 0 ? datum.label : ''","tickSize":{"condition":{"test":"datum.value % 500 === 0","value":-6},"value":-3},"labelPadding":9,"title":"Channel number"}},
"y":{"field":"lo","type":"quantitative","scale":{"domain":[-5.8,170.6],"nice":false,"zero":false},"axis":{"orient":"left","values":[0,10,20,30,40,50,60,70,80,90,100,110,120,130,140,150,160,170],"format":"d","labelExpr":"datum.value % 50 === 0 ? datum.label : ''","tickSize":{"condition":{"test":"datum.value % 50 === 0","value":-6},"value":-3},"labelPadding":11,"title":null}},"y2":{"field":"hi"}}},
{"data":{"name":"hist"},"transform":[{"filter":"datum.p === 9 && !isValid(datum.lo)"}],"mark":{"type":"line","stroke":"black","strokeWidth":1,"strokeDash":[1,1],"clip":true},
"encoding":{"x":{"field":"x","type":"quantitative","scale":{"domain":[0,1980],"nice":false,"zero":false},"axis":null},"y":{"field":"y","type":"quantitative","scale":{"domain":[-5.8,170.6],"nice":false,"zero":false},"axis":null}}},
{"data":{"name":"fit"},"transform":[{"filter":"datum.p === 9"}],"mark":{"type":"line","stroke":"black","strokeWidth":4,"interpolate":"monotone","clip":true},
"encoding":{"x":{"field":"x","type":"quantitative","scale":{"domain":[0,1980],"nice":false,"zero":false},"axis":{"orient":"top","values":[0,100,200,300,400,500,600,700,800,900,1000,1100,1200,1300,1400,1500,1600,1700,1800,1900],"labels":false,"tickSize":{"condition":{"test":"datum.value % 500 === 0","value":-6},"value":-3},"title":null}},
"y":{"field":"y","type":"quantitative","scale":{"domain":[-5.8,170.6],"nice":false,"zero":false},"axis":{"orient":"right","values":[0,10,20,30,40,50,60,70,80,90,100,110,120,130,140,150,160,170],"labels":false,"tickSize":{"condition":{"test":"datum.value % 50 === 0","value":-6},"value":-3},"title":null}}}}
],"resolve":{"axis":{"x":"independent","y":"independent"}}}
]
}
